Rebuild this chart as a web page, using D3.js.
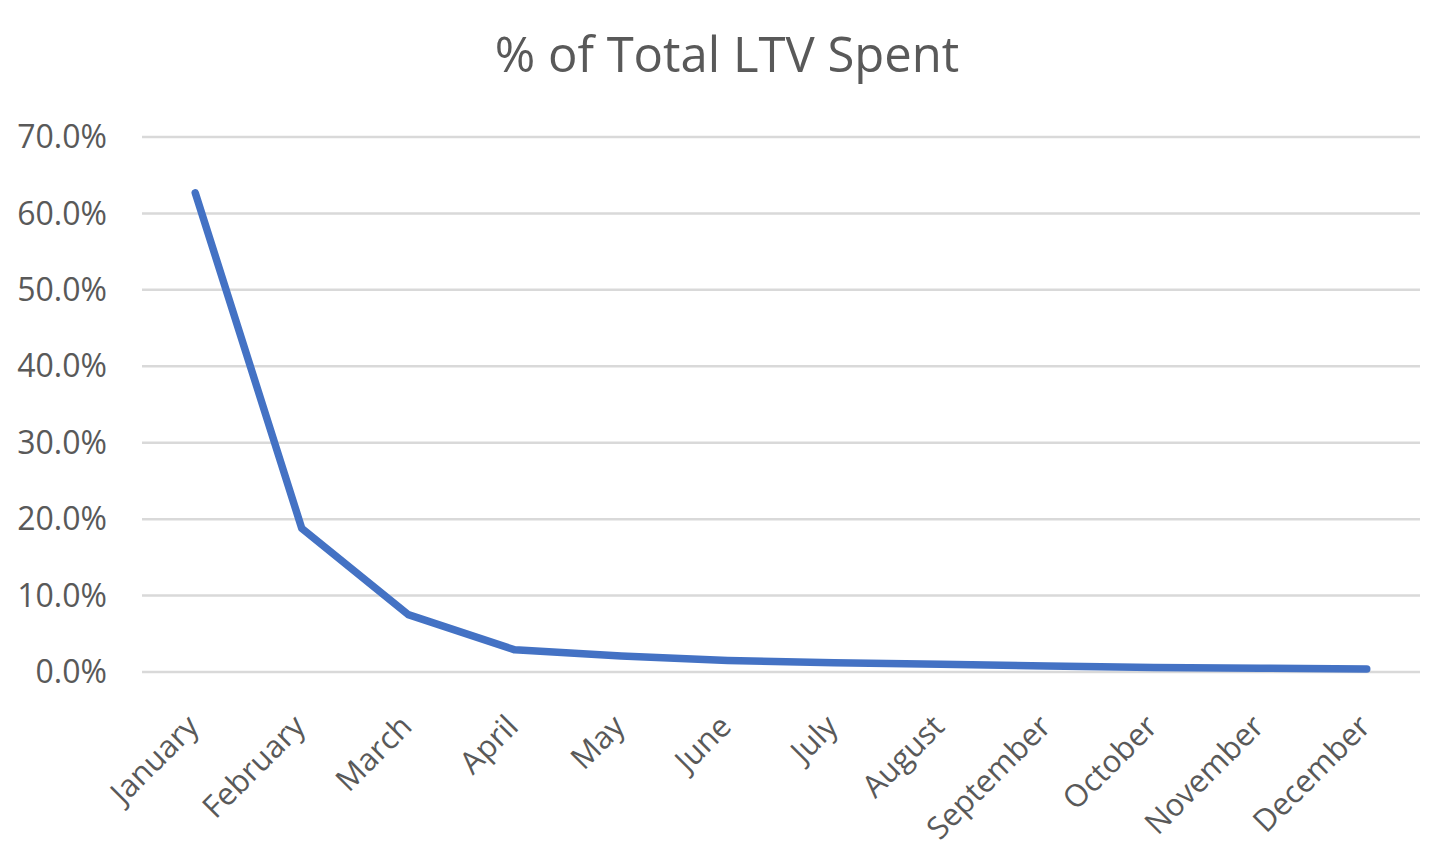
<!DOCTYPE html>
<html><head><meta charset="utf-8">
<script src="https://cdn.jsdelivr.net/npm/d3@7"></script>
<style>body{margin:0;background:#fff;} svg{display:block;}</style>
</head><body>
<svg id="c" width="1456" height="860"></svg>
<script>
const months = ["January","February","March","April","May","June","July","August","September","October","November","December"];
const values = [0.627,0.188,0.075,0.029,0.021,0.015,0.012,0.010,0.008,0.006,0.005,0.004];
const yTicks = [0,0.1,0.2,0.3,0.4,0.5,0.6,0.7];
const title = "% of Total LTV Spent";

(function(){
const svg = d3.select("#c");
const mLeft = 142, mRight = 1420, mTop = 137, mBottom = 672;
const x = d3.scaleBand().domain(months).range([mLeft, mRight]).padding(0);
const y = d3.scaleLinear().domain([0, 0.7]).range([mBottom, mTop]);
const cx = d => x(d) + x.bandwidth()/2;

svg.append("text").attr("x", 727).attr("y", 72).attr("text-anchor","middle")
  .attr("font-family","Open Sans, sans-serif").attr("font-size", 49).attr("fill","#595959")
  .text(title);

svg.append("g").selectAll("line").data(yTicks).join("line")
  .attr("x1", mLeft).attr("x2", mRight)
  .attr("y1", d => y(d)).attr("y2", d => y(d))
  .attr("stroke", "#d9d9d9").attr("stroke-width", 2.5);

const fmt = d3.format(".1%");
svg.append("g").selectAll("text").data(yTicks).join("text")
  .attr("x", 107).attr("y", d => y(d)).attr("dy","0.35em")
  .attr("text-anchor","end").attr("font-family","Open Sans, sans-serif")
  .attr("font-size", 32).attr("fill","#595959").text(d => fmt(d));

svg.append("g").selectAll("text").data(months).join("text")
  .attr("transform", d => `translate(${cx(d)-10},${713}) rotate(-45)`)
  .attr("text-anchor","end").attr("dy","0.7em")
  .attr("font-family","Open Sans, sans-serif").attr("font-size", 31).attr("fill","#595959")
  .text(d => d);

const line = d3.line().x((d,i) => cx(months[i])).y(d => y(d));
svg.append("path").datum(values).attr("d", line)
  .attr("fill","none").attr("stroke","#4472C4").attr("stroke-width", 7.5)
  .attr("stroke-linecap","round").attr("stroke-linejoin","round");
})();
</script>
</body></html>
